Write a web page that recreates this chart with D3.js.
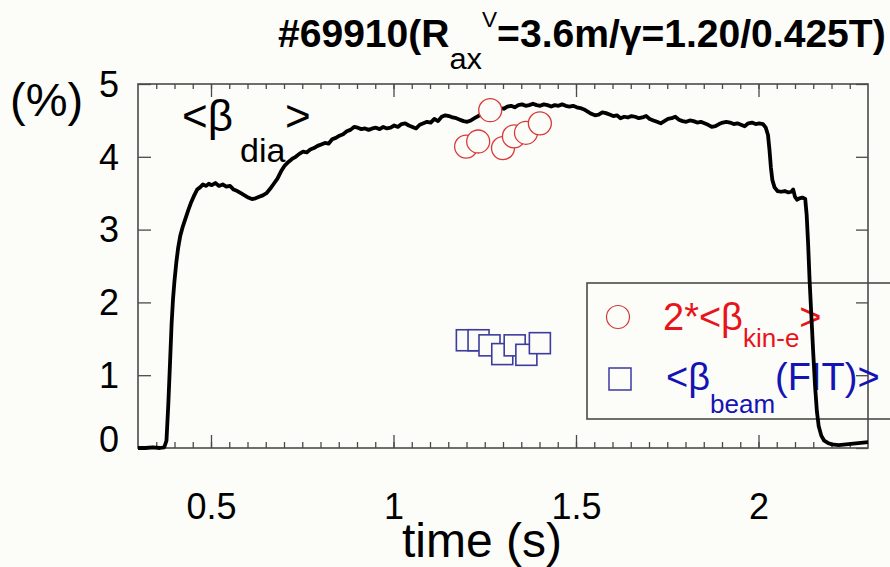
<!DOCTYPE html>
<html>
<head>
<meta charset="utf-8">
<script src="https://cdn.jsdelivr.net/npm/d3@7"></script>
<style>
  body { margin: 0; background: #fcfcf8; }
  svg { display: block; font-family: "Liberation Sans", Arial, sans-serif; }
</style>
</head>
<body>
<div id="container"></div>
<script>
// <beta_dia> trace
var diaTime = [0.300,0.320,0.340,0.360,0.372,0.378,0.383,0.388,0.392,0.396,0.400,0.405,0.410,0.416,0.422,0.430,0.438,0.446,0.454,0.462,
  0.470,0.478,0.486,0.494,0.502,0.512,0.522,0.532,0.542,0.552,0.562,0.572,0.582,0.592,0.602,0.612,0.622,0.632,0.642,0.652,
  0.662,0.672,0.682,0.692,0.702,0.712,0.722,0.732,0.742,0.752,0.762,0.772,0.782,0.792,0.802,0.812,0.822,0.832,0.842,0.852,
  0.862,0.872,0.882,0.892,0.902,0.912,0.922,0.932,0.942,0.952,0.962,0.972,0.982,0.992,1.002,1.012,1.022,1.032,1.042,1.052,
  1.062,1.072,1.082,1.092,1.102,1.112,1.122,1.132,1.142,1.152,1.162,1.172,1.182,1.192,1.202,1.212,1.222,1.232,1.242,1.252,
  1.262,1.272,1.282,1.292,1.302,1.312,1.322,1.332,1.342,1.352,1.362,1.372,1.382,1.392,1.402,1.412,1.422,1.432,1.442,1.452,
  1.462,1.472,1.482,1.492,1.502,1.512,1.522,1.532,1.542,1.552,1.562,1.572,1.582,1.592,1.602,1.612,1.622,1.632,1.642,1.652,
  1.662,1.672,1.682,1.692,1.702,1.712,1.722,1.732,1.742,1.752,1.762,1.772,1.782,1.792,1.802,1.812,1.822,1.832,1.842,1.852,
  1.862,1.872,1.882,1.892,1.902,1.912,1.922,1.932,1.942,1.952,1.962,1.972,1.982,1.992,2.002,2.012,2.020,2.026,2.030,2.034,
  2.038,2.044,2.052,2.062,2.072,2.082,2.090,2.095,2.100,2.106,2.112,2.120,2.128,2.132,2.136,2.140,2.145,2.150,2.155,2.160,
  2.165,2.172,2.180,2.190,2.200,2.220,2.240,2.260,2.280,2.300];
var diaValue = [0.00,0.00,0.01,0.00,0.01,0.10,0.60,1.20,1.70,2.05,2.30,2.55,2.75,2.92,3.03,3.15,3.27,3.38,3.47,3.55,
  3.58,3.62,3.60,3.63,3.61,3.64,3.60,3.62,3.59,3.60,3.55,3.53,3.50,3.47,3.44,3.42,3.43,3.45,3.47,3.50,
  3.56,3.63,3.70,3.80,3.88,3.93,3.97,4.00,4.04,4.07,4.06,4.10,4.12,4.15,4.17,4.19,4.18,4.24,4.26,4.29,
  4.31,4.35,4.37,4.41,4.40,4.38,4.39,4.37,4.39,4.40,4.38,4.41,4.39,4.40,4.43,4.41,4.45,4.46,4.43,4.41,
  4.39,4.44,4.46,4.48,4.47,4.52,4.49,4.55,4.57,4.56,4.54,4.53,4.51,4.49,4.48,4.50,4.53,4.56,4.58,4.60,
  4.62,4.63,4.65,4.67,4.66,4.69,4.70,4.68,4.71,4.72,4.70,4.71,4.73,4.71,4.70,4.72,4.71,4.69,4.71,4.70,
  4.72,4.70,4.69,4.70,4.68,4.67,4.65,4.62,4.59,4.57,4.58,4.61,4.60,4.58,4.56,4.57,4.53,4.55,4.54,4.56,
  4.55,4.53,4.54,4.56,4.52,4.50,4.48,4.46,4.49,4.52,4.53,4.55,4.51,4.49,4.48,4.50,4.49,4.47,4.48,4.46,
  4.44,4.41,4.42,4.45,4.47,4.48,4.47,4.45,4.46,4.44,4.42,4.46,4.47,4.45,4.46,4.45,4.40,4.30,4.10,3.85,
  3.68,3.58,3.53,3.52,3.53,3.51,3.52,3.55,3.45,3.41,3.43,3.44,3.42,3.20,2.80,2.30,1.80,1.30,0.85,0.50,
  0.30,0.17,0.10,0.07,0.05,0.04,0.05,0.06,0.07,0.08];

// 2*<beta_kin-e> (circles) and <beta_beam(FIT)> (squares)
var kinTime = [1.199, 1.232, 1.265, 1.300, 1.330, 1.363, 1.401];
var kinValue = [4.14, 4.21, 4.64, 4.12, 4.28, 4.33, 4.46];
var beamTime = [1.201, 1.233, 1.263, 1.298, 1.332, 1.364, 1.401];
var beamValue = [1.48, 1.48, 1.41, 1.29, 1.41, 1.28, 1.44];

var xTicks = [0.5, 1, 1.5, 2];
var yTicks = [0, 1, 2, 3, 4, 5];

var width = 890, height = 567;
var plotLeft = 138, plotRight = 868, plotTop = 84, plotBottom = 448;
var frameColor = '#4a4a4a';
var bg = '#fcfcf8';
var red = '#e8141c', blue = '#1414b4';

var svg = d3.select('#container').append('svg')
  .attr('width', width)
  .attr('height', height);

svg.append('rect').attr('width', width).attr('height', height).attr('fill', bg);

var x = d3.scaleLinear().domain([0.3, 2.3]).range([plotLeft, plotRight]);
var y = d3.scaleLinear().domain([0, 5]).range([plotBottom, plotTop]);

var xMinor = d3.range(7, 46).map(function(i) { return i * 0.05; });

// ticks all point inward
var styleAxis = function(g) {
  g.select('.domain').remove();
  g.selectAll('.tick line').attr('stroke', frameColor).attr('stroke-width', 1.3);
};

svg.append('g').attr('transform', 'translate(0,' + plotBottom + ')')
  .call(d3.axisBottom(x).tickValues(xMinor).tickSize(-6).tickFormat(''))
  .call(styleAxis);
svg.append('g').attr('transform', 'translate(0,' + plotTop + ')')
  .call(d3.axisTop(x).tickValues(xMinor).tickSize(-5).tickFormat(''))
  .call(styleAxis);
svg.append('g').attr('transform', 'translate(0,' + plotTop + ')')
  .call(d3.axisTop(x).tickValues(xTicks).tickSize(-13).tickFormat(''))
  .call(styleAxis);

var xAxis = svg.append('g').attr('transform', 'translate(0,' + plotBottom + ')')
  .call(d3.axisBottom(x).tickValues(xTicks).tickSize(-13).tickPadding(45).tickFormat(d3.format('')))
  .call(styleAxis);
xAxis.selectAll('text').attr('font-size', 36).attr('fill', '#000')
  .attr('font-family', '"Liberation Sans", Arial, sans-serif');

var yAxis = svg.append('g').attr('transform', 'translate(' + plotLeft + ',0)')
  .call(d3.axisLeft(y).tickValues(yTicks).tickSize(-13).tickPadding(19).tickFormat(d3.format('')))
  .call(styleAxis);
yAxis.selectAll('text').attr('font-size', 36).attr('fill', '#000')
  .attr('font-family', '"Liberation Sans", Arial, sans-serif')
  .attr('dy', function(d) { return d === 0 ? '0.1em' : '0.34em'; });

svg.append('g').attr('transform', 'translate(' + plotRight + ',0)')
  .call(d3.axisRight(y).tickValues(yTicks).tickSize(-12).tickFormat(''))
  .call(styleAxis);

svg.append('rect')
  .attr('x', plotLeft).attr('y', plotTop)
  .attr('width', plotRight - plotLeft).attr('height', plotBottom - plotTop)
  .attr('fill', 'none').attr('stroke', frameColor).attr('stroke-width', 1.6);

// legend box (open on the right, runs off the picture)
svg.append('rect')
  .attr('x', 587).attr('y', 283).attr('width', 320).attr('height', 136)
  .attr('fill', 'none').attr('stroke', frameColor).attr('stroke-width', 1.6);

var legend = svg.append('g');
legend.append('circle').attr('cx', 618).attr('cy', 317).attr('r', 11.5)
  .attr('fill', 'none').attr('stroke', '#d03a3a').attr('stroke-width', 1.2);
legend.append('rect').attr('x', 609).attr('y', 368).attr('width', 22).attr('height', 22)
  .attr('fill', 'none').attr('stroke', '#3a3aa0').attr('stroke-width', 1.5);

var kinLabel = legend.append('text').attr('x', 663).attr('y', 330)
  .attr('font-size', 38).attr('fill', red);
kinLabel.append('tspan').text('2*<β');
kinLabel.append('tspan').attr('dy', 17).attr('font-size', 26).text('kin-e');
kinLabel.append('tspan').attr('dy', -17).text('>');

var beamLabel = legend.append('text').attr('x', 666).attr('y', 390)
  .attr('font-size', 38).attr('fill', blue);
beamLabel.append('tspan').text('<β');
beamLabel.append('tspan').attr('dy', 23).attr('font-size', 26).text('beam');
beamLabel.append('tspan').attr('dy', -23).text('(FIT)>');

// main trace
var line = d3.line()
  .x(function(d, i) { return x(diaTime[i]); })
  .y(function(d) { return y(d); });

svg.append('path')
  .datum(diaValue)
  .attr('d', line)
  .attr('fill', 'none')
  .attr('stroke', '#000')
  .attr('stroke-width', 3.8)
  .attr('stroke-linejoin', 'round');

svg.selectAll('.kin')
  .data(kinValue)
  .enter()
  .append('circle')
  .attr('class', 'kin')
  .attr('cx', function(d, i) { return x(kinTime[i]); })
  .attr('cy', function(d) { return y(d); })
  .attr('r', 11.5)
  .attr('fill', bg)
  .attr('stroke', '#d83a3a')
  .attr('stroke-width', 1.3);

svg.selectAll('.beam')
  .data(beamValue)
  .enter()
  .append('rect')
  .attr('class', 'beam')
  .attr('x', function(d, i) { return x(beamTime[i]) - 10.5; })
  .attr('y', function(d) { return y(d) - 10.5; })
  .attr('width', 21)
  .attr('height', 21)
  .attr('fill', bg)
  .attr('stroke', '#3c3ca0')
  .attr('stroke-width', 1.6);

// <beta_dia> label inside the plot
svg.append('text').attr('x', 182).attr('y', 131).attr('font-size', 44).text('<β');
svg.append('text').attr('x', 240).attr('y', 162).attr('font-size', 34).text('dia');
svg.append('text').attr('x', 285).attr('y', 131).attr('font-size', 44).text('>');

// unit and axis title
svg.append('text').attr('x', 10).attr('y', 116).attr('font-size', 47).text('(%)');
svg.append('text').attr('x', 482).attr('y', 557).attr('font-size', 48)
  .attr('text-anchor', 'middle').text('time (s)');

// shot title, squeezed to the width it has in the picture
var title = svg.append('text').attr('x', 278).attr('y', 47).attr('font-size', 38)
  .attr('font-weight', 'bold');
title.append('tspan').text('#69910(R');
title.append('tspan').attr('dy', 22).attr('font-weight', 'normal').attr('font-size', 30).text('ax');
title.append('tspan').attr('dy', -42).attr('font-weight', 'normal').attr('font-size', 22).text('V');
title.append('tspan').attr('dy', 20).text('=3.6m/γ=1.20/0.425T)');
var tw = title.node().getComputedTextLength();
title.attr('transform', 'translate(278,0) scale(' + (608 / tw) + ',1) translate(-278,0)');
</script>
</body>
</html>
